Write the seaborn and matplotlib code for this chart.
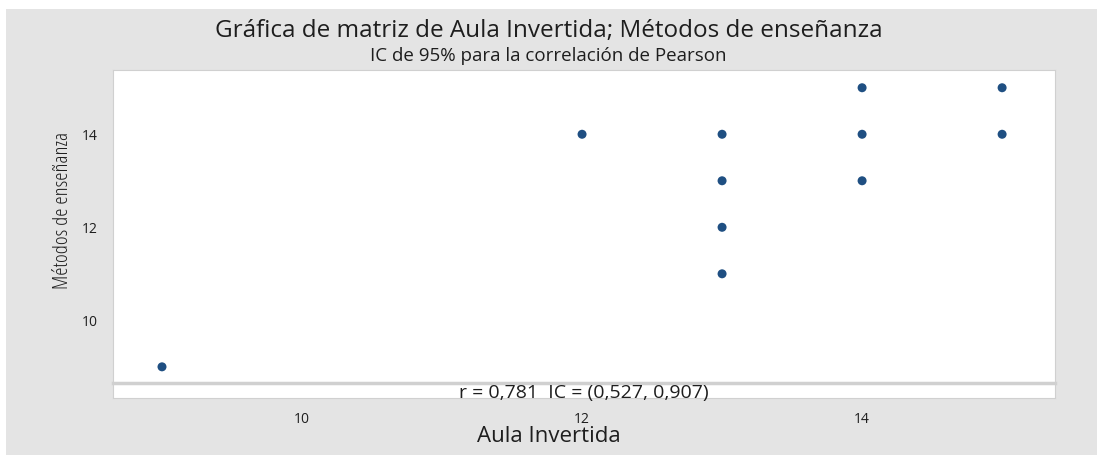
import matplotlib
matplotlib.use("Agg")
import matplotlib.pyplot as plt
import seaborn as sns
import pandas as pd
from matplotlib.patches import Rectangle

# data
aula_invertida = [9, 12, 13, 13, 13, 13, 14, 14, 14, 15, 15]
metodos = [9, 14, 14, 13, 12, 11, 15, 14, 13, 15, 14]
x_ticks = [10, 12, 14]
y_ticks = [10, 12, 14]
r_text = "r = 0,781  IC = (0,527, 0,907)"

df = pd.DataFrame({"Aula Invertida": aula_invertida, "Métodos de enseñanza": metodos})

sns.set_style("white")
plt.rcParams["font.family"] = ["Open Sans", "DejaVu Sans"]
txt = "#1e1e1e"

fig = plt.figure(figsize=(10.97, 4.55), dpi=100)
fig.patch.set_facecolor("white")
# gray panel behind everything
fig.patches.append(Rectangle((6 / 1097, 0), 1 - 6 / 1097, 1 - 9 / 455,
                             transform=fig.transFigure, facecolor="#e4e4e4",
                             edgecolor="none", zorder=-10))

lim = (8.65, 15.38)
ax = fig.add_axes([0.103, 0.158, 0.859, 0.688])
sns.scatterplot(data=df, x="Aula Invertida", y="Métodos de enseñanza", ax=ax,
                color="#1f4f82", s=42, edgecolor="none", legend=False)
ax.set_xlim(lim)
ax.set_ylim(lim)
ax.set_facecolor("white")
ax.set_xticks(x_ticks)
ax.set_xticklabels([])
ax.tick_params(axis="x", length=0)
ax.set_yticks(y_ticks)
ax.set_yticklabels([str(t) for t in y_ticks], fontsize=10, color=txt)
ax.tick_params(axis="y", length=3, color="#bbbbbb", pad=8)
ax.set_xlabel("")
ax.set_ylabel("Métodos de enseñanza", fontsize=15, color=txt, fontstretch="condensed")
ax.yaxis.set_label_coords(-0.042, 0.553)
for s in ax.spines.values():
    s.set_color("#d0d0d0")
    s.set_linewidth(0.8)

# strip under the scatter with the correlation text
ax2 = fig.add_axes([0.103, 0.125, 0.859, 0.033])
ax2.set_facecolor("white")
ax2.set_xlim(lim)
ax2.set_ylim(0, 1)
ax2.set_yticks([])
ax2.set_xticks(x_ticks)
ax2.set_xticklabels([str(t) for t in x_ticks], fontsize=10, color=txt)
ax2.tick_params(axis="x", length=3, color="#bbbbbb", pad=7)
for s in ax2.spines.values():
    s.set_color("#d0d0d0")
    s.set_linewidth(0.8)
ax2.spines["top"].set_linewidth(2.5)
ax2.text(0.5, 0.35, r_text, transform=ax2.transAxes, ha="center", va="center",
         fontsize=14, color=txt)
ax2.set_xlabel("")
fig.text(0.5, 1 - 437 / 455, "Aula Invertida", ha="center", va="center",
         fontsize=16, color=txt)

fig.text(0.5, 1 - 31 / 455, "Gráfica de matriz de Aula Invertida; Métodos de enseñanza",
         ha="center", va="center", fontsize=17.5, color=txt)
fig.text(0.5, 1 - 56 / 455, "IC de 95% para la correlación de Pearson",
         ha="center", va="center", fontsize=13.5, color=txt)

fig.savefig("out.png", dpi=100)
